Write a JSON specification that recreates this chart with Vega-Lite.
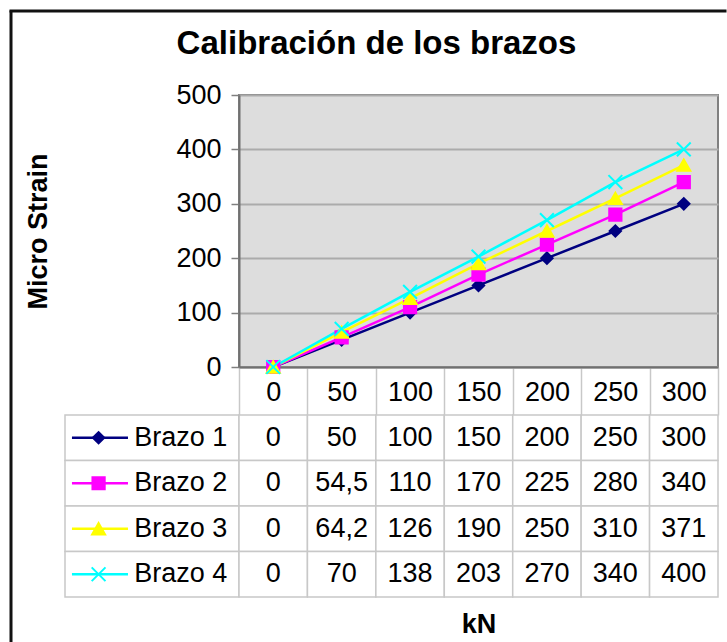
{
  "$schema": "https://vega.github.io/schema/vega-lite/v6.json",
  "padding": {"left": 8, "top": 8, "right": 0, "bottom": 0},
  "background": "white",
  "datasets": {
    "rows": [
      {"kN": 0, "brazo": "Brazo 1", "strain": 0},
      {"kN": 50, "brazo": "Brazo 1", "strain": 50},
      {"kN": 100, "brazo": "Brazo 1", "strain": 100},
      {"kN": 150, "brazo": "Brazo 1", "strain": 150},
      {"kN": 200, "brazo": "Brazo 1", "strain": 200},
      {"kN": 250, "brazo": "Brazo 1", "strain": 250},
      {"kN": 300, "brazo": "Brazo 1", "strain": 300},
      {"kN": 0, "brazo": "Brazo 2", "strain": 0},
      {"kN": 50, "brazo": "Brazo 2", "strain": 54.5},
      {"kN": 100, "brazo": "Brazo 2", "strain": 110},
      {"kN": 150, "brazo": "Brazo 2", "strain": 170},
      {"kN": 200, "brazo": "Brazo 2", "strain": 225},
      {"kN": 250, "brazo": "Brazo 2", "strain": 280},
      {"kN": 300, "brazo": "Brazo 2", "strain": 340},
      {"kN": 0, "brazo": "Brazo 3", "strain": 0},
      {"kN": 50, "brazo": "Brazo 3", "strain": 64.2},
      {"kN": 100, "brazo": "Brazo 3", "strain": 126},
      {"kN": 150, "brazo": "Brazo 3", "strain": 190},
      {"kN": 200, "brazo": "Brazo 3", "strain": 250},
      {"kN": 250, "brazo": "Brazo 3", "strain": 310},
      {"kN": 300, "brazo": "Brazo 3", "strain": 371},
      {"kN": 0, "brazo": "Brazo 4", "strain": 0},
      {"kN": 50, "brazo": "Brazo 4", "strain": 70},
      {"kN": 100, "brazo": "Brazo 4", "strain": 138},
      {"kN": 150, "brazo": "Brazo 4", "strain": 203},
      {"kN": 200, "brazo": "Brazo 4", "strain": 270},
      {"kN": 250, "brazo": "Brazo 4", "strain": 340},
      {"kN": 300, "brazo": "Brazo 4", "strain": 400}
    ]
  },
  "bounds": "flush",
  "spacing": 0,
  "vconcat": [
    {
      "width": 714,
      "height": 1,
      "data": {"values": [{}]},
      "mark": {"type": "rule", "color": "#111111", "strokeWidth": 3, "strokeCap": "square"},
      "encoding": {"y": {"datum": 1, "type": "quantitative", "scale": {"domain": [0, 1]}, "axis": null}}
    },
    {
      "bounds": "flush",
      "spacing": 53,
      "hconcat": [
        {
          "width": 1,
          "height": 630,
          "data": {"values": [{}]},
          "mark": {"type": "rule", "color": "#111111", "strokeWidth": 3, "strokeCap": "square"},
          "encoding": {"x": {"datum": 0, "type": "quantitative", "scale": {"domain": [0, 1]}, "axis": null}}
        },
        {
          "bounds": "flush",
          "columns": 2,
          "align": "each",
          "spacing": {"row": 48, "column": 0},
          "concat": [
            {"width": 174, "height": 34.5, "data": {"values": []}, "mark": "point"},
            {"width": 479, "height": 34.5, "data": {"values": []}, "mark": "point"},
            {"width": 174, "height": 272, "data": {"values": []}, "mark": "point"},
            {
              "width": 479,
              "height": 272,
              "view": {"fill": "#dddddd", "stroke": "#808080", "strokeWidth": 2},
              "title": {"text": "Calibración de los brazos", "fontSize": 33, "fontWeight": "bold", "font": "Liberation Sans", "color": "#000000", "anchor": "middle", "dx": -102, "baseline": "alphabetic", "offset": -6},
              "data": {"name": "rows"},
              "encoding": {
                "x": {
                  "field": "kN", "type": "ordinal",
                  "scale": {"type": "band", "paddingInner": 0, "paddingOuter": 0},
                  "axis": {
                    "title": null, "labelAngle": 0, "labelFontSize": 27, "labelFont": "Liberation Sans", "labelColor": "#000000",
                    "labelBaseline": "alphabetic", "labelPadding": -15, "labelOverlap": false,
                    "tickBand": "extent", "tickSize": 48, "tickColor": "#c8c8c8", "tickWidth": 1.5,
                    "domainColor": "#707070", "domainWidth": 2, "grid": false
                  }
                },
                "y": {
                  "field": "strain", "type": "quantitative",
                  "scale": {"domain": [0, 500], "nice": false},
                  "axis": {
                    "values": [0, 100, 200, 300, 400, 500],
                    "title": "Micro Strain", "titleFontSize": 27, "titleFontWeight": "bold", "titleFont": "Liberation Sans", "titleColor": "#000000", "titlePadding": 123,
                    "labelFontSize": 27, "labelFont": "Liberation Sans", "labelColor": "#000000", "labelPadding": 10,
                    "tickSize": 8, "tickColor": "#808080", "tickWidth": 1.5,
                    "domainColor": "#707070", "domainWidth": 2,
                    "grid": true, "gridColor": "#ababab", "gridWidth": 2
                  }
                }
              },
              "layer": [
                {
                  "mark": {"type": "line", "strokeWidth": 2.5},
                  "encoding": {
                    "color": {"field": "brazo", "type": "nominal", "scale": {"domain": ["Brazo 1", "Brazo 2", "Brazo 3", "Brazo 4"], "range": ["#000080", "#ff00ff", "#ffff00", "#00ffff"]}, "legend": null}
                  }
                },
                {
                  "mark": {"type": "point", "filled": true, "opacity": 1, "strokeWidth": 2},
                  "encoding": {
                    "fill": {"field": "brazo", "type": "nominal", "scale": {"domain": ["Brazo 1", "Brazo 2", "Brazo 3", "Brazo 4"], "range": ["#000080", "#ff00ff", "#ffff00", "#00ffff"]}, "legend": null},
                    "stroke": {"field": "brazo", "type": "nominal", "scale": {"domain": ["Brazo 1", "Brazo 2", "Brazo 3", "Brazo 4"], "range": ["#000080", "#ff00ff", "#ffff00", "#00ffff"]}, "legend": null},
                    "shape": {"field": "brazo", "type": "nominal", "scale": {"domain": ["Brazo 1", "Brazo 2", "Brazo 3", "Brazo 4"], "range": ["diamond", "square", "triangle-up", "M-1,-1L1,1M-1,1L1,-1"]}, "legend": null},
                    "size": {"field": "brazo", "type": "ordinal", "scale": {"domain": ["Brazo 1", "Brazo 2", "Brazo 3", "Brazo 4"], "range": [130, 190, 230, 220]}, "legend": null}
                  }
                }
              ]
            },
            {
              "width": 174,
              "height": 182,
              "data": {"name": "rows"},
              "transform": [{"filter": "datum.kN === 0"}],
              "encoding": {
                "y": {"field": "brazo", "type": "nominal", "scale": {"domain": ["Brazo 1", "Brazo 2", "Brazo 3", "Brazo 4"], "paddingInner": 0, "paddingOuter": 0}, "axis": null}
              },
              "layer": [
                {
                  "mark": {"type": "rect", "fill": "#ffffff", "stroke": "#c8c8c8", "strokeWidth": 1.5},
                  "encoding": {
                    "x": {"datum": 0, "type": "quantitative", "scale": {"domain": [0, 1]}, "axis": null},
                    "x2": {"datum": 1}
                  }
                },
                {
                  "mark": {"type": "rule", "strokeWidth": 2.5},
                  "encoding": {
                    "x": {"datum": 0.04, "type": "quantitative", "scale": {"domain": [0, 1]}, "axis": null},
                    "x2": {"datum": 0.362},
                    "color": {"field": "brazo", "type": "nominal", "scale": {"domain": ["Brazo 1", "Brazo 2", "Brazo 3", "Brazo 4"], "range": ["#000080", "#ff00ff", "#ffff00", "#00ffff"]}, "legend": null}
                  }
                },
                {
                  "mark": {"type": "point", "filled": true, "opacity": 1, "strokeWidth": 2},
                  "encoding": {
                    "x": {"datum": 0.193, "type": "quantitative", "scale": {"domain": [0, 1]}, "axis": null},
                    "fill": {"field": "brazo", "type": "nominal", "scale": {"domain": ["Brazo 1", "Brazo 2", "Brazo 3", "Brazo 4"], "range": ["#000080", "#ff00ff", "#ffff00", "#00ffff"]}, "legend": null},
                    "stroke": {"field": "brazo", "type": "nominal", "scale": {"domain": ["Brazo 1", "Brazo 2", "Brazo 3", "Brazo 4"], "range": ["#000080", "#ff00ff", "#ffff00", "#00ffff"]}, "legend": null},
                    "shape": {"field": "brazo", "type": "nominal", "scale": {"domain": ["Brazo 1", "Brazo 2", "Brazo 3", "Brazo 4"], "range": ["diamond", "square", "triangle-up", "M-1,-1L1,1M-1,1L1,-1"]}, "legend": null},
                    "size": {"field": "brazo", "type": "ordinal", "scale": {"domain": ["Brazo 1", "Brazo 2", "Brazo 3", "Brazo 4"], "range": [110, 200, 200, 150]}, "legend": null}
                  }
                },
                {
                  "mark": {"type": "text", "align": "left", "baseline": "middle", "fontSize": 27, "font": "Liberation Sans", "color": "#000000"},
                  "encoding": {
                    "x": {"datum": 0.398, "type": "quantitative", "scale": {"domain": [0, 1]}, "axis": null},
                    "text": {"field": "brazo", "type": "nominal"}
                  }
                }
              ]
            },
            {
              "width": 479,
              "height": 182,
              "data": {"name": "rows"},
              "encoding": {
                "x": {
                  "field": "kN", "type": "ordinal",
                  "scale": {"type": "band", "paddingInner": 0, "paddingOuter": 0},
                  "axis": {"title": "kN", "labels": false, "ticks": false, "domain": false, "titleFontSize": 27, "titleFontWeight": "bold", "titleFont": "Liberation Sans", "titleColor": "#000000", "titlePadding": 14}
                },
                "y": {"field": "brazo", "type": "nominal", "scale": {"domain": ["Brazo 1", "Brazo 2", "Brazo 3", "Brazo 4"], "paddingInner": 0, "paddingOuter": 0}, "axis": null}
              },
              "layer": [
                {"mark": {"type": "rect", "fill": "#ffffff", "stroke": "#c8c8c8", "strokeWidth": 1.5}},
                {
                  "mark": {"type": "text", "align": "center", "baseline": "middle", "fontSize": 27, "font": "Liberation Sans", "color": "#000000"},
                  "encoding": {"text": {"field": "strain", "type": "quantitative", "format": "~g"}}
                }
              ]
            }
          ]
        }
      ]
    }
  ],
  "config": {
    "font": "Liberation Sans",
    "view": {"stroke": null},
    "locale": {"number": {"decimal": ",", "thousands": ".", "grouping": [3], "currency": ["", " €"]}}
  }
}
